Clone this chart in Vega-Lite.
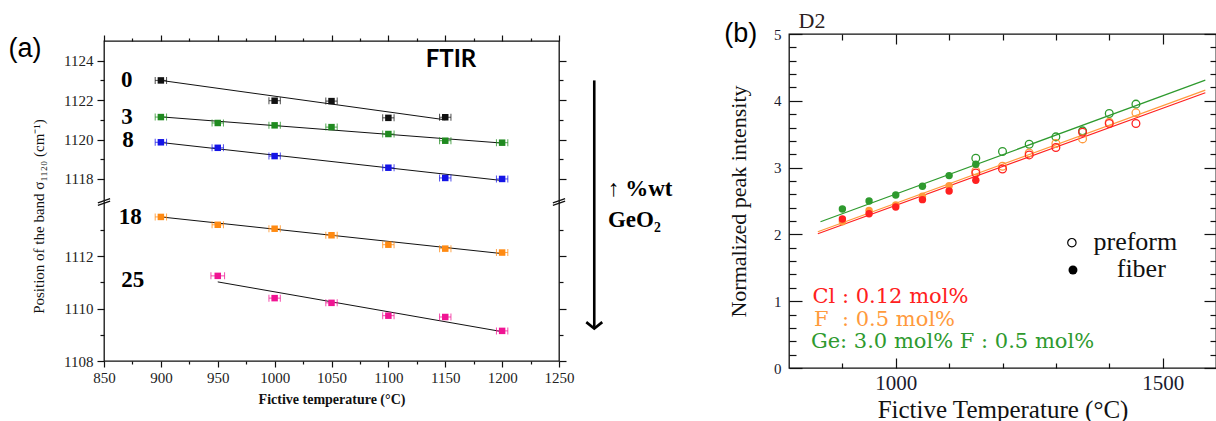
{
  "$schema": "https://vega.github.io/schema/vega-lite/v6.json",
  "background": "white",
  "padding": {"left": 7, "top": 9, "right": 0, "bottom": 0},
  "bounds": "flush",
  "spacing": 230,
  "center": true,
  "resolve": {"scale": {"color": "independent"}},
  "config": {
    "view": {"stroke": "#111", "strokeWidth": 1.3},
    "axis": {"grid": false, "domain": false, "tickColor": "#111", "labelColor": "#222", "labelFont": "Liberation Serif", "titleFont": "Liberation Serif", "titleColor": "#111", "labelOverlap": false, "labelFlush": false, "tickWidth": 1.2},
    "text": {"font": "Liberation Serif"}
  },
  "datasets": {
    "ptsA": [
      {"s": "0", "T": 900, "v": 1123.0, "e": 5}, {"s": "0", "T": 1000, "v": 1121.97, "e": 5}, {"s": "0", "T": 1050, "v": 1121.95, "e": 5}, {"s": "0", "T": 1100, "v": 1121.1, "e": 5}, {"s": "0", "T": 1150, "v": 1121.13, "e": 5},
      {"s": "3", "T": 900, "v": 1121.14, "e": 5}, {"s": "3", "T": 950, "v": 1120.84, "e": 5}, {"s": "3", "T": 1000, "v": 1120.72, "e": 5}, {"s": "3", "T": 1050, "v": 1120.63, "e": 5}, {"s": "3", "T": 1100, "v": 1120.28, "e": 5}, {"s": "3", "T": 1150, "v": 1119.94, "e": 5}, {"s": "3", "T": 1200, "v": 1119.84, "e": 5},
      {"s": "8", "T": 900, "v": 1119.86, "e": 5}, {"s": "8", "T": 950, "v": 1119.58, "e": 5}, {"s": "8", "T": 1000, "v": 1119.16, "e": 5}, {"s": "8", "T": 1100, "v": 1118.57, "e": 5}, {"s": "8", "T": 1150, "v": 1118.05, "e": 5}, {"s": "8", "T": 1200, "v": 1118.0, "e": 5},
      {"s": "18", "T": 900, "v": 1113.5, "e": 5}, {"s": "18", "T": 950, "v": 1113.2, "e": 5}, {"s": "18", "T": 1000, "v": 1113.05, "e": 5}, {"s": "18", "T": 1050, "v": 1112.8, "e": 5}, {"s": "18", "T": 1100, "v": 1112.44, "e": 5}, {"s": "18", "T": 1150, "v": 1112.29, "e": 5}, {"s": "18", "T": 1200, "v": 1112.14, "e": 5},
      {"s": "25", "T": 950, "v": 1111.25, "e": 6}, {"s": "25", "T": 1000, "v": 1110.4, "e": 5}, {"s": "25", "T": 1050, "v": 1110.22, "e": 5}, {"s": "25", "T": 1100, "v": 1109.73, "e": 5}, {"s": "25", "T": 1150, "v": 1109.68, "e": 5}, {"s": "25", "T": 1200, "v": 1109.15, "e": 5}
    ],
    "fitA": [
      {"s": "0", "T": 900, "v": 1123.0}, {"s": "0", "T": 1150, "v": 1121.0},
      {"s": "3", "T": 900, "v": 1121.15}, {"s": "3", "T": 1200, "v": 1119.82},
      {"s": "8", "T": 900, "v": 1119.85}, {"s": "8", "T": 1200, "v": 1117.92},
      {"s": "18", "T": 900, "v": 1113.5}, {"s": "18", "T": 1200, "v": 1112.1},
      {"s": "25", "T": 950, "v": 1111.02}, {"s": "25", "T": 1200, "v": 1109.12}
    ],
    "lblA": [
      {"label": "0", "T": 870, "v": 1123.0}, {"label": "3", "T": 870.3, "v": 1121.14}, {"label": "8", "T": 871, "v": 1119.96},
      {"label": "18", "T": 873, "v": 1113.5}, {"label": "25", "T": 875.3, "v": 1111.09}
    ],
    "annA": [
      {"kind": "panel", "label": "(a)", "T": 766, "v": 1124.6},
      {"kind": "ftir", "label": "FTIR", "T": 1155, "v": 1124.04},
      {"kind": "note", "label": "↑ %wt", "T": 1293, "v": 1117.5},
      {"kind": "note", "label": "GeO₂", "T": 1293, "v": 1113.39}
    ],
    "arrowA": [{"T": 1281, "v1": 1123.0, "v2": 1109.3}],
    "tipA": [{"T": 1281, "v": 1109.24}],
    "breakA": [{"T": 850, "v": 1114.07}, {"T": 1250, "v": 1114.07}],
    "pfB": [
      {"s": "Ge", "T": 1150, "v": 3.14}, {"s": "Ge", "T": 1200, "v": 3.24}, {"s": "Ge", "T": 1250, "v": 3.35}, {"s": "Ge", "T": 1300, "v": 3.46}, {"s": "Ge", "T": 1350, "v": 3.55}, {"s": "Ge", "T": 1400, "v": 3.81}, {"s": "Ge", "T": 1450, "v": 3.95},
      {"s": "F", "T": 1150, "v": 2.95}, {"s": "F", "T": 1200, "v": 3.02}, {"s": "F", "T": 1250, "v": 3.22}, {"s": "F", "T": 1300, "v": 3.36}, {"s": "F", "T": 1350, "v": 3.43}, {"s": "F", "T": 1400, "v": 3.68}, {"s": "F", "T": 1450, "v": 3.82},
      {"s": "Cl", "T": 1150, "v": 2.92}, {"s": "Cl", "T": 1200, "v": 2.98}, {"s": "Cl", "T": 1250, "v": 3.19}, {"s": "Cl", "T": 1300, "v": 3.3}, {"s": "Cl", "T": 1350, "v": 3.53}, {"s": "Cl", "T": 1400, "v": 3.66}, {"s": "Cl", "T": 1450, "v": 3.66}
    ],
    "fbB": [
      {"s": "Ge", "T": 900, "v": 2.38}, {"s": "Ge", "T": 950, "v": 2.5}, {"s": "Ge", "T": 1000, "v": 2.59}, {"s": "Ge", "T": 1050, "v": 2.72}, {"s": "Ge", "T": 1100, "v": 2.88}, {"s": "Ge", "T": 1150, "v": 3.05},
      {"s": "F", "T": 900, "v": 2.19}, {"s": "F", "T": 950, "v": 2.36}, {"s": "F", "T": 1000, "v": 2.44}, {"s": "F", "T": 1050, "v": 2.57}, {"s": "F", "T": 1100, "v": 2.73},
      {"s": "Cl", "T": 900, "v": 2.23}, {"s": "Cl", "T": 950, "v": 2.31}, {"s": "Cl", "T": 1000, "v": 2.41}, {"s": "Cl", "T": 1050, "v": 2.52}, {"s": "Cl", "T": 1100, "v": 2.65}, {"s": "Cl", "T": 1150, "v": 2.81}
    ],
    "fitB": [
      {"s": "Ge", "T": 859, "v": 2.19}, {"s": "Ge", "T": 1580, "v": 4.31},
      {"s": "F", "T": 854, "v": 2.04}, {"s": "F", "T": 1580, "v": 4.16},
      {"s": "Cl", "T": 854, "v": 2.01}, {"s": "Cl", "T": 1580, "v": 4.12}
    ],
    "txtB": [
      {"s": "Cl", "label": "Cl : 0.12 mol%", "T": 844, "v": 0.977},
      {"s": "F", "label": "F\u00a0\u00a0: 0.5 mol%", "T": 847, "v": 0.629},
      {"s": "Ge", "label": "Ge: 3.0 mol% F : 0.5 mol%", "T": 841, "v": 0.304}
    ],
    "legSymB": [{"kind": "preform", "T": 1330, "v": 1.876}, {"kind": "fiber", "T": 1332, "v": 1.467}],
    "legTxtB": [{"label": "preform", "T": 1370.5, "v": 1.762}, {"label": "fiber", "T": 1414, "v": 1.362}],
    "annB": [{"kind": "panel", "label": "(b)", "T": 678.6, "v": 5.0}, {"kind": "d2", "label": "D2", "T": 818, "v": 5.094}]
  },
  "hconcat": [
    {
      "width": 455,
      "height": 320,
      "layer": [
        {
          "data": {"name": "fitA"},
          "mark": {"type": "line", "color": "#111", "strokeWidth": 1},
          "encoding": {
            "x": {"field": "T", "type": "quantitative", "scale": {"domain": [850, 1250], "nice": false, "zero": false},
              "axis": {"orient": "bottom", "values": [850, 875, 900, 925, 950, 975, 1000, 1025, 1050, 1075, 1100, 1125, 1150, 1175, 1200, 1225, 1250], "format": "d",
                "labelExpr": "datum.value % 50 === 0 ? datum.label : ''", "labelOverlap": false,
                "tickSize": {"condition": {"test": "datum.value % 50 === 0", "value": 6}, "value": 3},
                "labelFontSize": 15, "labelPadding": 3,
                "title": "Fictive temperature (°C)", "titleFontWeight": "bold", "titleFontSize": 14, "titleY": 42, "titleBaseline": "alphabetic"}},
            "y": {"field": "v", "type": "quantitative", "scale": {"domain": [1108, 1114.07, 1116.83, 1125], "range": [320, 161, 161, 0], "nice": false, "zero": false},
              "axis": {"orient": "left", "values": [1108, 1109, 1110, 1111, 1112, 1113, 1118, 1119, 1120, 1121, 1122, 1123, 1124], "format": "d",
                "labelExpr": "datum.value % 2 === 0 ? datum.label : ''", "labelOverlap": false,
                "tickSize": {"condition": {"test": "datum.value % 2 === 0", "value": 7}, "value": 4},
                "labelFontSize": 15, "labelPadding": 4,
                "title": "Position of the band σ₁₁₂₀ (cm⁻¹)", "titleFontSize": 15, "titleFontWeight": "normal", "titleX": -66, "titleY": 175, "titleBaseline": "middle", "titleAngle": 270}},
            "detail": {"field": "s"}
          }
        },
        {
          "data": {"name": "ptsA"},
          "mark": {"type": "errorbar", "ticks": true, "size": 7, "thickness": 1, "opacity": 0.75},
          "encoding": {
            "x": {"field": "T", "type": "quantitative", "axis": null},
            "xError": {"field": "e"},
            "y": {"field": "v", "type": "quantitative", "axis": null},
            "color": {"field": "s", "type": "nominal", "scale": {"domain": ["0", "3", "8", "18", "25"], "range": ["#111111", "#1f8a1f", "#1414e6", "#ff8a12", "#f01493"]}, "legend": null}
          }
        },
        {
          "data": {"name": "ptsA"},
          "mark": {"type": "square", "size": 42, "opacity": 1},
          "encoding": {
            "x": {"field": "T", "type": "quantitative",
              "axis": {"orient": "top", "values": [850, 875, 900, 925, 950, 975, 1000, 1025, 1050, 1075, 1100, 1125, 1150, 1175, 1200, 1225, 1250], "labels": false, "title": null,
                "tickSize": {"condition": {"test": "datum.value % 50 === 0", "value": 6}, "value": 3}}},
            "y": {"field": "v", "type": "quantitative",
              "axis": {"orient": "right", "values": [1108, 1109, 1110, 1111, 1112, 1113, 1118, 1119, 1120, 1121, 1122, 1123, 1124], "labels": false, "title": null,
                "tickSize": {"condition": {"test": "datum.value % 2 === 0", "value": 7}, "value": 4}}},
            "color": {"field": "s", "type": "nominal", "legend": null}
          }
        },
        {
          "data": {"name": "lblA"},
          "mark": {"type": "text", "font": "Liberation Serif", "fontWeight": "bold", "fontSize": 23, "align": "center", "baseline": "middle", "color": "#000"},
          "encoding": {
            "x": {"field": "T", "type": "quantitative", "axis": null},
            "y": {"field": "v", "type": "quantitative", "axis": null},
            "text": {"field": "label"}
          }
        },
        {
          "data": {"name": "annA"},
          "transform": [{"filter": "datum.kind === 'panel'"}],
          "mark": {"type": "text", "font": "Liberation Sans", "fontSize": 27, "align": "left", "baseline": "middle", "color": "#000"},
          "encoding": {
            "x": {"field": "T", "type": "quantitative", "axis": null},
            "y": {"field": "v", "type": "quantitative", "axis": null},
            "text": {"field": "label"}
          }
        },
        {
          "data": {"name": "annA"},
          "transform": [{"filter": "datum.kind === 'ftir'"}],
          "mark": {"type": "text", "font": "Lato", "fontWeight": "bold", "fontSize": 24, "align": "center", "baseline": "middle", "color": "#000"},
          "encoding": {
            "x": {"field": "T", "type": "quantitative", "axis": null},
            "y": {"field": "v", "type": "quantitative", "axis": null},
            "text": {"field": "label"}
          }
        },
        {
          "data": {"name": "annA"},
          "transform": [{"filter": "datum.kind === 'note'"}],
          "mark": {"type": "text", "font": "Liberation Serif", "fontWeight": "bold", "fontSize": 23, "align": "left", "baseline": "middle", "color": "#000"},
          "encoding": {
            "x": {"field": "T", "type": "quantitative", "axis": null},
            "y": {"field": "v", "type": "quantitative", "axis": null},
            "text": {"field": "label"}
          }
        },
        {
          "data": {"name": "arrowA"},
          "mark": {"type": "rule", "color": "#000", "strokeWidth": 2.6},
          "encoding": {
            "x": {"field": "T", "type": "quantitative", "axis": null},
            "y": {"field": "v1", "type": "quantitative", "axis": null},
            "y2": {"field": "v2"}
          }
        },
        {
          "data": {"name": "tipA"},
          "mark": {"type": "point", "shape": "M-1,-0.8L0,0L1,-0.8", "size": 256, "filled": false, "stroke": "#000", "strokeWidth": 2.6, "opacity": 1},
          "encoding": {
            "x": {"field": "T", "type": "quantitative", "axis": null},
            "y": {"field": "v", "type": "quantitative", "axis": null}
          }
        },
        {
          "data": {"name": "breakA"},
          "mark": {"type": "point", "shape": "M-1,0.15L1,-0.55M-1,0.55L1,-0.15", "size": 150, "filled": false, "stroke": "#111", "strokeWidth": 1.3, "opacity": 1},
          "encoding": {
            "x": {"field": "T", "type": "quantitative", "axis": null},
            "y": {"field": "v", "type": "quantitative", "axis": null}
          }
        }
      ],
      "resolve": {"axis": {"x": "independent", "y": "independent"}}
    },
    {
      "width": 427,
      "height": 334,
      "layer": [
        {
          "data": {"name": "fitB"},
          "mark": {"type": "line", "strokeWidth": 1.2},
          "encoding": {
            "x": {"field": "T", "type": "quantitative", "scale": {"domain": [800, 1600], "nice": false, "zero": false},
              "axis": {"orient": "bottom", "values": [1000, 1500], "format": "d", "tickSize": 10, "offset": -10,
                "labelFontSize": 21, "labelPadding": 4, "labelColor": "#1a1a2e",
                "title": "Fictive Temperature (°C)", "titleFontSize": 25, "titleFontWeight": "normal", "titleY": 59, "titleBaseline": "alphabetic"}},
            "y": {"field": "v", "type": "quantitative", "scale": {"domain": [0, 5], "nice": false, "zero": false},
              "axis": {"orient": "left", "values": [0, 1, 2, 3, 4, 5], "format": "d", "tickSize": 13, "offset": -13,
                "labelFontSize": 15, "labelPadding": 8, "labelColor": "#1a1a2e",
                "title": "Normalized peak intensity", "titleFontSize": 22, "titleFontWeight": "normal", "titleX": -64, "titleBaseline": "middle", "titleAngle": 270}},
            "color": {"field": "s", "type": "nominal", "scale": {"domain": ["Cl", "F", "Ge"], "range": ["#ff2020", "#ff9a3c", "#2e9a2e"]}, "legend": null}
          }
        },
        {
          "data": {"name": "pfB"},
          "mark": {"type": "point", "shape": "circle", "filled": false, "size": 60, "strokeWidth": 1.3, "opacity": 1},
          "encoding": {
            "x": {"field": "T", "type": "quantitative",
              "axis": {"orient": "top", "values": [1000, 1500], "labels": false, "title": null, "tickSize": 10, "offset": -10}},
            "y": {"field": "v", "type": "quantitative",
              "axis": {"orient": "right", "values": [0, 1, 2, 3, 4, 5], "labels": false, "title": null, "tickSize": 12, "offset": -12}},
            "color": {"field": "s", "type": "nominal", "legend": null}
          }
        },
        {
          "data": {"name": "fbB"},
          "mark": {"type": "circle", "size": 55, "opacity": 1},
          "encoding": {
            "x": {"field": "T", "type": "quantitative",
              "axis": {"orient": "bottom", "values": [900, 1100, 1200, 1300, 1400], "labels": false, "title": null, "tickSize": 5, "offset": -5}},
            "y": {"field": "v", "type": "quantitative",
              "axis": {"orient": "left", "values": [0.2, 0.4, 0.6, 0.8, 1.2, 1.4, 1.6, 1.8, 2.2, 2.4, 2.6, 2.8, 3.2, 3.4, 3.6, 3.8, 4.2, 4.4, 4.6, 4.8], "labels": false, "title": null, "tickSize": 7, "offset": -7}},
            "color": {"field": "s", "type": "nominal", "legend": null}
          }
        },
        {
          "data": {"name": "txtB"},
          "mark": {"type": "text", "font": "DejaVu Serif", "fontSize": 21, "align": "left", "baseline": "alphabetic"},
          "encoding": {
            "x": {"field": "T", "type": "quantitative",
              "axis": {"orient": "top", "values": [900, 1100, 1200, 1300, 1400], "labels": false, "title": null, "tickSize": 6, "offset": -6}},
            "y": {"field": "v", "type": "quantitative",
              "axis": {"orient": "right", "values": [0.2, 0.4, 0.6, 0.8, 1.2, 1.4, 1.6, 1.8, 2.2, 2.4, 2.6, 2.8, 3.2, 3.4, 3.6, 3.8, 4.2, 4.4, 4.6, 4.8], "labels": false, "title": null, "tickSize": 6, "offset": -6}},
            "text": {"field": "label"},
            "color": {"field": "s", "type": "nominal", "legend": null}
          }
        },
        {
          "data": {"name": "legSymB"},
          "transform": [{"filter": "datum.kind === 'preform'"}],
          "mark": {"type": "point", "shape": "circle", "filled": false, "size": 70, "strokeWidth": 1.2, "color": "#000", "opacity": 1},
          "encoding": {
            "x": {"field": "T", "type": "quantitative", "axis": null},
            "y": {"field": "v", "type": "quantitative", "axis": null}
          }
        },
        {
          "data": {"name": "legSymB"},
          "transform": [{"filter": "datum.kind === 'fiber'"}],
          "mark": {"type": "circle", "size": 80, "color": "#000", "opacity": 1},
          "encoding": {
            "x": {"field": "T", "type": "quantitative", "axis": null},
            "y": {"field": "v", "type": "quantitative", "axis": null}
          }
        },
        {
          "data": {"name": "legTxtB"},
          "mark": {"type": "text", "font": "Liberation Serif", "fontSize": 26, "align": "left", "baseline": "alphabetic", "color": "#111"},
          "encoding": {
            "x": {"field": "T", "type": "quantitative", "axis": null},
            "y": {"field": "v", "type": "quantitative", "axis": null},
            "text": {"field": "label"}
          }
        },
        {
          "data": {"name": "annB"},
          "transform": [{"filter": "datum.kind === 'panel'"}],
          "mark": {"type": "text", "font": "Liberation Sans", "fontSize": 27, "align": "left", "baseline": "middle", "color": "#000"},
          "encoding": {
            "x": {"field": "T", "type": "quantitative", "axis": null},
            "y": {"field": "v", "type": "quantitative", "axis": null},
            "text": {"field": "label"}
          }
        },
        {
          "data": {"name": "annB"},
          "transform": [{"filter": "datum.kind === 'd2'"}],
          "mark": {"type": "text", "font": "Liberation Serif", "fontSize": 22, "align": "left", "baseline": "alphabetic", "color": "#2a2020"},
          "encoding": {
            "x": {"field": "T", "type": "quantitative", "axis": null},
            "y": {"field": "v", "type": "quantitative", "axis": null},
            "text": {"field": "label"}
          }
        }
      ],
      "resolve": {"axis": {"x": "independent", "y": "independent"}}
    }
  ]
}
